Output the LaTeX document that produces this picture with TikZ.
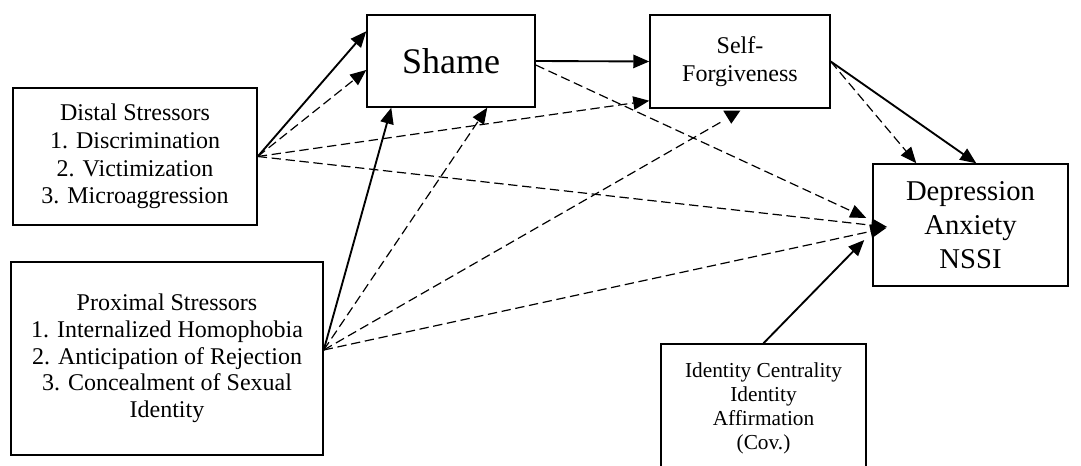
\documentclass[tikz,border=0pt]{standalone}
\usepackage{fontspec}
\setmainfont{Liberation Serif}
\usetikzlibrary{arrows.meta,calc}
\begin{document}
\begin{tikzpicture}[x=0.75pt,y=-0.75pt,
  box/.style={draw,line width=1.1pt,inner sep=0pt,align=center},
  sol/.style={line width=1.4pt,-{Triangle[length=12pt,width=10pt]}},
  dsh/.style={line width=0.9pt,dash pattern=on 7pt off 3.5pt,-{Triangle[length=12pt,width=10pt]}}]
\useasboundingbox (0,0) rectangle (1081,466);
\clip (0,0) rectangle (1081,466);
\fill[white] (0,0) rectangle (1081,466);
\node[box,minimum width=183pt,minimum height=102.75pt,font=\fontsize{18}{20.8}\selectfont] (dist) at (135,156.5)
  {Distal Stressors\\1. Discrimination\\2. Victimization\\3. Microaggression};
\node[box,minimum width=234pt,minimum height=144.75pt,font=\fontsize{18}{20}\selectfont] (prox) at (167,358.5)
  {Proximal Stressors\\1. Internalized Homophobia\\2. Anticipation of Rejection\\3. Concealment of Sexual\\Identity};
\node[box,minimum width=126pt,minimum height=69pt,font=\fontsize{27}{30}\selectfont] (shame) at (451,61) {Shame};
\node[box,minimum width=135pt,minimum height=69.75pt,font=\fontsize{18}{21}\selectfont] (sf) at (740,61.5) {Self-\\Forgiveness};
\node[box,minimum width=146.25pt,minimum height=91.5pt,font=\fontsize{21.5}{25.5}\selectfont] (dep) at (970.5,225) {Depression\\Anxiety\\NSSI};
\node[box,minimum width=153.75pt,minimum height=96pt,font=\fontsize{16}{18}\selectfont] (ident) at (763.5,408)
  {Identity Centrality\\Identity\\Affirmation\\(Cov.)};
\coordinate (pe) at ($(prox.east)+(0,-8.5)$);
% distal
\draw[sol] (dist.east) -- ($(shame.north west)+(0,17)$);
\draw[dsh] (dist.east) -- ($(shame.west)+(0,9)$);
\draw[dsh] (dist.east) -- ($(sf.south west)+(0,-8)$);
\draw[dsh] (dist.east) -- ($(dep.west)+(15,2)$);
% shame
\draw[sol] (shame.east) -- (sf.west);
\draw[dsh] ($(shame.east)+(0,4)$) -- ($(dep.west)+(-6,-7)$);
% proximal
\draw[sol] (pe) -- ($(shame.south west)+(25,0)$);
\draw[dsh] (pe) -- ($(shame.south west)+(121,0)$);
\draw[dsh,-] (pe) -- ($(sf.south west)+(74,12)$);
\fill ($(sf.south west)+(74,2)$) -- ($(sf.south west)+(91,2)$) -- ($(sf.south west)+(82,15)$) -- cycle;
\draw[dsh] (pe) -- ($(dep.west)+(14,3)$);
% self-forgiveness
\draw[sol] (sf.east) -- ($(dep.north west)+(104,0)$);
\draw[dsh] (sf.east) -- ($(dep.north west)+(44,0)$);
% covariates
\draw[sol] (ident.north) -- ($(dep.west)+(-8,15)$);
\end{tikzpicture}
\end{document}
